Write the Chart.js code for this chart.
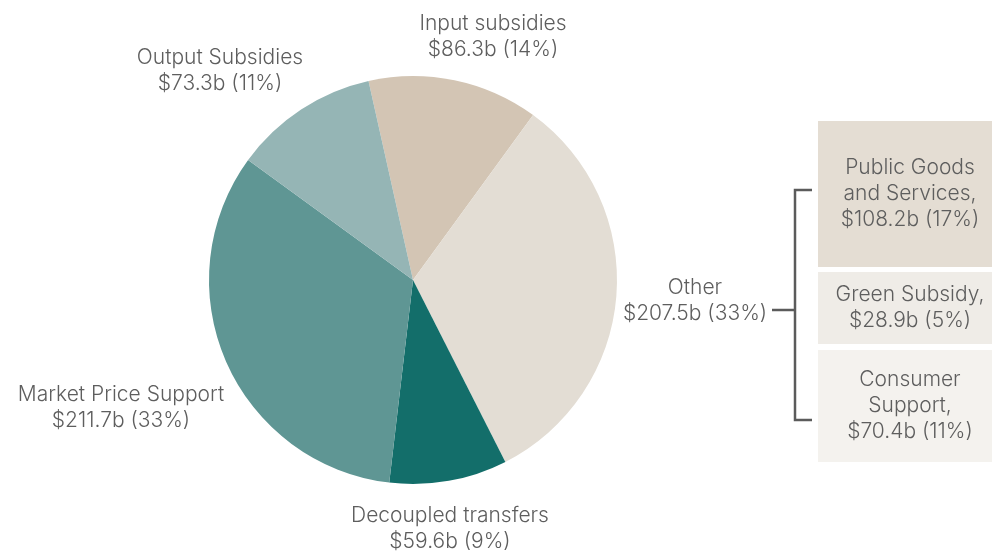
<!DOCTYPE html>
<html lang="en">
<head>
    <meta charset="UTF-8">
    <title>Agricultural support breakdown</title>
    <script src="https://cdn.jsdelivr.net/npm/chart.js"></script>
    <style>
        html, body {
            margin: 0;
            padding: 0;
            background: #fff;
        }
        #wrap {
            position: relative;
            width: 992px;
            height: 551px;
        }
    </style>
</head>
<body>
    <div id="wrap">
        <canvas id="pie" width="992" height="551"></canvas>
    </div>
    <script>
        // pie slices, clockwise from the top
        const categories = ["Input subsidies", "Other", "Decoupled transfers", "Market Price Support", "Output Subsidies"];
        const values = [86.3, 207.5, 59.6, 211.7, 73.3];
        const shares = ["14%", "33%", "9%", "33%", "11%"];
        const sliceColors = ["#d3c5b4", "#e3ddd4", "#136e6a", "#5f9694", "#95b5b5"];

        // breakdown of "Other"
        const otherParts = [["Public Goods", "and Services,"], ["Green Subsidy,"], ["Consumer", "Support,"]];
        const otherValues = [108.2, 28.9, 70.4];
        const otherShares = ["17%", "5%", "11%"];
        const boxColors = ["#e4ddd3", "#efece7", "#f4f2ee"];

        // where each slice label sits (centre x, first line y)
        const labelPos = [[493, 24], [695, 288], [450, 516], [121, 395], [220, 58]];
        // side boxes: top, bottom
        const boxes = [[121, 267], [272, 344], [350, 462]];

        const FONT = '300 21px "Inter", "Lato", sans-serif';
        const TEXT = "#5e5e5e";
        const LINE = 26;

        const money = v => "$" + v.toFixed(1) + "b";

        const labelPlugin = {
            id: "labels",
            afterDraw(chart) {
                const ctx = chart.ctx;
                ctx.save();
                ctx.font = FONT;
                ctx.fillStyle = TEXT;
                ctx.textAlign = "center";
                ctx.textBaseline = "middle";

                categories.forEach((c, i) => {
                    const [x, y] = labelPos[i];
                    ctx.fillText(c, x, y);
                    ctx.fillText(money(values[i]) + " (" + shares[i] + ")", x, y + LINE);
                });

                // boxes for the "Other" breakdown
                otherParts.forEach((lines, i) => {
                    const [top, bottom] = boxes[i];
                    ctx.fillStyle = boxColors[i];
                    ctx.fillRect(818, top, 174, bottom - top);
                    const all = lines.concat([money(otherValues[i]) + " (" + otherShares[i] + ")"]);
                    const mid = (top + bottom) / 2;
                    ctx.fillStyle = TEXT;
                    all.forEach((t, j) => {
                        ctx.fillText(t, 910, mid + (j - (all.length - 1) / 2) * LINE);
                    });
                });

                // bracket
                ctx.strokeStyle = "#5b5b5b";
                ctx.lineWidth = 2.5;
                ctx.beginPath();
                ctx.moveTo(812, 190);
                ctx.lineTo(795, 190);
                ctx.lineTo(795, 420);
                ctx.lineTo(812, 420);
                ctx.moveTo(772, 310);
                ctx.lineTo(795, 310);
                ctx.stroke();
                ctx.restore();
            }
        };

        new Chart(document.getElementById("pie"), {
            type: "pie",
            data: {
                labels: categories,
                datasets: [{
                    data: values,
                    backgroundColor: sliceColors,
                    borderWidth: 0
                }]
            },
            options: {
                responsive: false,
                animation: false,
                rotation: -12.6,
                layout: {
                    padding: { left: 209, right: 375, top: 76, bottom: 67 }
                },
                plugins: {
                    legend: { display: false },
                    tooltip: { enabled: false }
                }
            },
            plugins: [labelPlugin]
        });
    </script>
</body>
</html>
